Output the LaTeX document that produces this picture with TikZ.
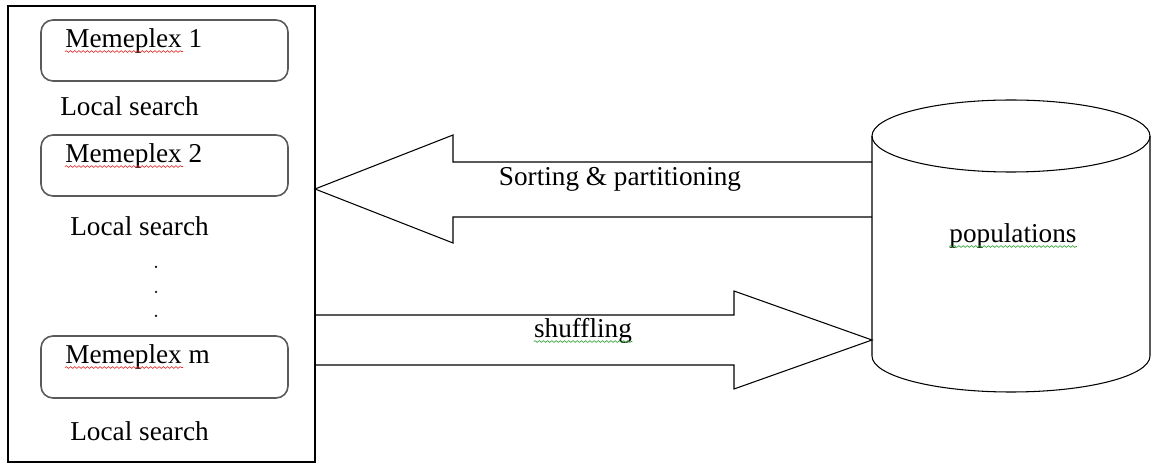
\documentclass[tikz,border=0pt]{standalone}
\usepackage{fontspec}
\setmainfont{Liberation Serif}
\usepackage{tikz}
\usetikzlibrary{decorations.pathmorphing}
\definecolor{SFBox}{HTML}{5A5A5A}
\definecolor{SFRed}{HTML}{E02828}
\definecolor{SFGreen}{HTML}{2EA02E}

\tikzset{
  memebox/.style={draw=SFBox,line width=0.9pt,rounded corners=0.24cm},
  lbl/.style={inner sep=0pt,font=\fontsize{15.5}{18}\selectfont},
  squig/.style={line width=0.35pt,decorate,decoration={snake,amplitude=0.5pt,segment length=2.4pt}}
}

\begin{document}
\begin{tikzpicture}[x=1cm,y=1cm]
\path[use as bounding box] (0,0) rectangle (23.02,9.26);
% left frame with the memeplexes
\draw[line width=0.6pt] (0.16,0.02) rectangle (6.30,9.14);
\draw[memebox] (0.82,7.64) rectangle (5.76,8.86);
\node[lbl,anchor=base west] (mem1) at (1.30,8.30) {Memeplex 1};
\node[lbl,anchor=base west] (ls1) at (1.20,6.94) {Local search};
\draw[memebox] (0.82,5.34) rectangle (5.76,6.56);
\node[lbl,anchor=base west] (mem2) at (1.30,6.00) {Memeplex 2};
\node[lbl,anchor=base west] (ls2) at (1.40,4.54) {Local search};
\foreach \y in {3.92,3.42,2.94}
  \fill (3.12,\y) circle (0.025);
\draw[memebox] (0.82,1.30) rectangle (5.76,2.54);
\node[lbl,anchor=base west] (memm) at (1.30,1.98) {Memeplex m};
\node[lbl,anchor=base west] (ls3) at (1.40,0.44) {Local search};
\draw[squig,SFRed] ([yshift=-2pt]mem1.base west) -- ++(2.36,0);
\draw[squig,SFRed] ([yshift=-2pt]mem2.base west) -- ++(2.36,0);
\draw[squig,SFRed] ([yshift=-2pt]memm.base west) -- ++(2.36,0);
% population cylinder
\draw[line width=0.6pt] (17.44,6.54) -- (17.44,2.14)
  arc[start angle=180,end angle=360,x radius=2.78,y radius=0.72] -- (23.00,6.54);
\draw[line width=0.6pt] (20.22,6.54) ellipse [x radius=2.78,y radius=0.72];
\node[lbl,anchor=base] (pop) at (20.26,4.40) {populations};
\draw[squig,SFGreen] ([yshift=-2pt]pop.base west) -- ([yshift=-2pt]pop.base east);
% block arrows
\draw[line width=0.6pt] (17.44,6.02) -- (9.06,6.02) -- (9.06,6.56) -- (6.30,5.48)
  -- (9.06,4.40) -- (9.06,4.92) -- (17.44,4.92);
\node[lbl,anchor=base] (sort) at (12.40,5.54) {Sorting \& partitioning};
\draw[line width=0.6pt] (6.30,2.96) -- (14.68,2.96) -- (14.68,3.44) -- (17.44,2.46)
  -- (14.68,1.48) -- (14.68,1.96) -- (6.30,1.96);
\node[lbl,anchor=base] (shuf) at (11.66,2.50) {shuffling};
\draw[squig,SFGreen] ([yshift=-2pt]shuf.base west) -- ([yshift=-2pt]shuf.base east);
\end{tikzpicture}
\end{document}
